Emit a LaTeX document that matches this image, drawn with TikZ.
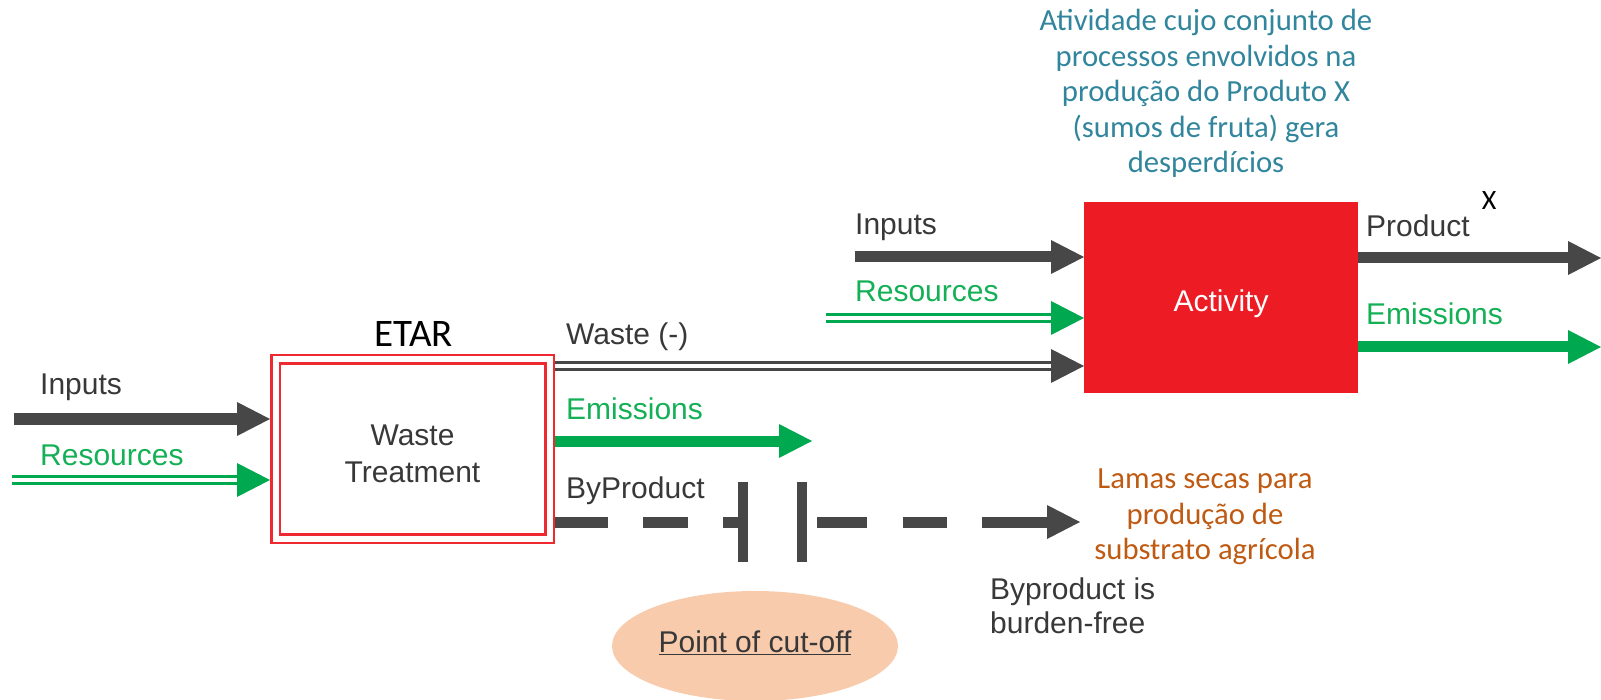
\documentclass[tikz,border=0pt]{standalone}
\usepackage{fontspec}
\setmainfont{Liberation Sans}
\newfontfamily\calfont{Carlito}
\usetikzlibrary{shapes.geometric,calc}
\definecolor{dgray}{HTML}{474747}
\definecolor{tgray}{HTML}{383838}
\definecolor{agreen}{HTML}{00A84F}
\definecolor{tgreen}{HTML}{14B056}
\definecolor{actred}{HTML}{ED1C24}
\definecolor{boxred}{HTML}{EE2A30}
\definecolor{topblue}{HTML}{31859C}
\definecolor{lamabrown}{HTML}{BF5A12}
\definecolor{peach}{HTML}{F8CBAD}
\newcommand\lblfont{\fontsize{30}{37}\selectfont}
\newcommand\calsize{\fontsize{30.7}{35.5}\selectfont}
\newcommand\arrowheadat[2]{\fill[#1] (#2) -- ++(-33,-17) -- ++(0,34) -- cycle;}
\begin{document}
\begin{tikzpicture}[x=1pt,y=-1pt,
  lbl/.style={anchor=base west, inner sep=0, font=\lblfont, text=tgray},
  glbl/.style={lbl, text=tgreen},
  gshaft/.style={draw=dgray, line width=11pt, shorten >=31pt},
  grshaft/.style={draw=agreen, line width=11pt, shorten >=31pt},
  gdbl/.style={draw=dgray, line width=2.5pt, double=white, double distance=4.5pt, shorten >=31pt},
  grdbl/.style={draw=agreen, line width=3pt, double=white, double distance=4.5pt, shorten >=31pt},
  dashline/.style={draw=dgray, line width=11pt},
  cutbar/.style={draw=dgray, line width=10pt}
]
\useasboundingbox (0,0) rectangle (1601,700);

% boxes
\node[draw=boxred, line width=2.5pt, double=white, double distance=6pt,
      minimum width=274, minimum height=179, inner sep=0, outer sep=5.5pt,
      align=center, font=\lblfont, text=tgray] (wt) at (412.5,449) {\rule{0pt}{29.5pt}Waste\\Treatment};
\node[fill=actred, minimum width=274, minimum height=191, inner sep=0, outer sep=0,
      text=white, font=\lblfont] (act) at (1221,297.5) {\rule{0pt}{33.5pt}Activity};
\node[ellipse, fill=peach, minimum width=286, minimum height=110, inner sep=0,
      font=\lblfont, text=tgray] (cut) at (755,646) {\underline{Point of cut-off}\rule[-8pt]{0pt}{0pt}};

% titles and notes
\node[anchor=base, inner sep=0, font=\calfont\fontsize{39}{40}\selectfont] (etar) at (413.5,347) {ETAR};
\node[anchor=north, inner sep=0, align=center, font=\calfont\calsize, text=topblue] (desc) at (1206,9)
  {Atividade cujo conjunto de\\processos envolvidos na\\produção do Produto X\\(sumos de fruta) gera\\desperdícios};
\node[inner sep=0, font=\calfont\fontsize{28}{30}\selectfont] (xmark) at (1489,201) {X};
\node[anchor=north, inner sep=0, align=center, font=\calfont\calsize, text=lamabrown] (lamas) at (1205,469)
  {Lamas secas para\\produção de\\substrato agrícola};
\node[anchor=north west, inner sep=0, align=left, font=\fontsize{30}{34}\selectfont, text=tgray] (free) at (990,578)
  {Byproduct is\\burden-free};

% labels
\node[lbl] (lInL) at (40,395) {Inputs};
\node[glbl] (lReL) at (40,465) {Resources};
\node[lbl] (lWaste) at (566,345) {Waste (-)};
\node[glbl] (lEmL) at (566,420) {Emissions};
\node[lbl] (lBy) at (566,498) {ByProduct};
\node[lbl] (lInT) at (855,235) {Inputs};
\node[glbl] (lReT) at (855,302) {Resources};
\node[lbl] (lProd) at (1366,237) {Product};
\node[glbl] (lEmR) at (1366,325) {Emissions};

% coordinates
\coordinate (inL) at (14,419);
\coordinate (reL) at (12,480);
\path (wt.east) ++(0,-83) coordinate (w0);
\path (wt.east) ++(0,-8) coordinate (e0);
\path (wt.east) ++(0,73) coordinate (b0);
\coordinate (emE) at (812,441);
\coordinate (cut1) at (743,522);
\coordinate (cut2) at (802,522);
\coordinate (byE) at (1080,522);
\coordinate (inT) at (855,257);
\coordinate (reT) at (826,318);
\path (act.east) ++(0,-39.5) coordinate (p0);
\path (act.east) ++(0,49.5) coordinate (m0);
\coordinate (pE) at (1601,258);
\coordinate (mE) at (1601,347);

% left inputs
\draw[gshaft] (inL) -- (inL -| wt.west); \arrowheadat{dgray}{inL -| wt.west}
\draw[grdbl] (reL) -- (reL -| wt.west); \arrowheadat{agreen}{reL -| wt.west}
% waste to activity
\draw[gdbl] (w0) -- (act.west |- w0); \arrowheadat{dgray}{act.west |- w0}
% emissions from waste treatment
\draw[grshaft] (e0) -- (emE); \arrowheadat{agreen}{emE}
% byproduct dashed with cut-off
\draw[dashline, dash pattern=on 53pt off 35pt on 45pt off 35pt on 40pt] (b0) -- (cut1);
\draw[cutbar] (cut1) ++(0,-40) -- ++(0,80);
\draw[cutbar] (cut2) ++(0,-40) -- ++(0,80);
\draw[dashline, dash pattern=on 0pt off 15pt on 50pt off 36pt on 44pt off 35pt on 400pt, shorten >=31pt] (cut2) -- (byE);
\arrowheadat{dgray}{byE}
% activity inputs
\draw[gshaft] (inT) -- (inT -| act.west); \arrowheadat{dgray}{inT -| act.west}
\draw[grdbl] (reT) -- (reT -| act.west); \arrowheadat{agreen}{reT -| act.west}
% activity outputs
\draw[gshaft] (p0) -- (pE); \arrowheadat{dgray}{pE}
\draw[grshaft] (m0) -- (mE); \arrowheadat{agreen}{mE}
\end{tikzpicture}
\end{document}
